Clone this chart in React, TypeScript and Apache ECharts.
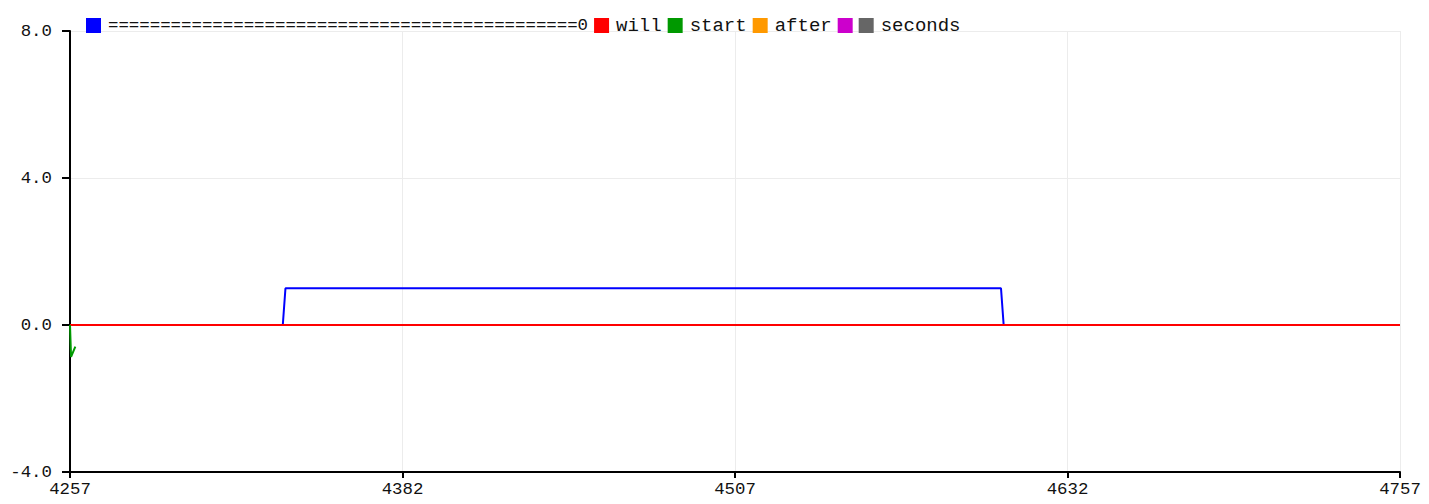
import React, { useEffect, useRef } from "react";
import * as echarts from "echarts";

const FIRST_SAMPLE = 4257;
const LAST_SAMPLE = 4757;
const X_STEP = 125;
const Y_MIN = -4;
const Y_MAX = 8;
const Y_STEP = 4;

const seriesNames = [
  "=============================================0",
  "will",
  "start",
  "after",
  "series5",
  "seconds",
];
const hiddenLabel = "series5";
const seriesColors = ["#0000ff", "#ff0000", "#009900", "#ff9900", "#cc00cc", "#666666"];

// [sample, value] break points
const blueData: [number, number][] = [
  [4257, 0],
  [4337, 0],
  [4338, 1],
  [4607, 1],
  [4608, 0],
  [4757, 0],
];
const redData: [number, number][] = [
  [4257, 0],
  [4757, 0],
];
const greenData: [number, number][] = [
  [4257, 0],
  [4257.4, -0.87],
  [4259, -0.59],
];
const orangeData: [number, number][] = [];
const magentaData: [number, number][] = [];
const grayData: [number, number][] = [];

const allData = [blueData, redData, greenData, orangeData, magentaData, grayData];

const FONT = "'Liberation Mono', 'Courier New', monospace";

export default function App() {
  const ref = useRef<HTMLDivElement>(null);
  useEffect(() => {
    if (!ref.current) return;
    const chart = echarts.init(ref.current, undefined, { renderer: "svg" });
    chart.setOption({
      animation: false,
      backgroundColor: "#ffffff",
      grid: { left: 70, right: 29, top: 31, bottom: 32, containLabel: false },
      legend: {
        left: 86,
        top: 16,
        padding: 0,
        itemWidth: 15,
        itemHeight: 15,
        itemGap: 6,
        icon: "rect",
        data: seriesNames,
        formatter: (name: string) => {
          if (name === hiddenLabel) return "";
          return name === seriesNames[0] ? `{eq|${name}}` : `{w|${name}}`;
        },
        textStyle: {
          fontFamily: FONT,
          fontSize: 17.4,
          color: "#111111",
          padding: [0, 0, 0, 2],
          rich: {
            eq: { fontFamily: FONT, fontSize: 17.4, color: "#111111" },
            w: { fontFamily: FONT, fontSize: 19, color: "#111111" },
          },
        },
      },
      xAxis: {
        type: "value",
        min: 0,
        max: LAST_SAMPLE - FIRST_SAMPLE,
        interval: X_STEP,
        axisLine: { show: true, onZero: false, lineStyle: { color: "#000", width: 2 } },
        axisTick: { show: true, length: 6, lineStyle: { color: "#000", width: 2 } },
        axisLabel: {
          margin: 9,
          fontFamily: FONT,
          fontSize: 17.4,
          color: "#111111",
          formatter: (v: number) => String(v + FIRST_SAMPLE),
        },
        splitLine: { show: true, lineStyle: { color: "#ececec", width: 1 } },
      },
      yAxis: {
        type: "value",
        min: Y_MIN,
        max: Y_MAX,
        interval: Y_STEP,
        axisLine: { show: true, onZero: false, lineStyle: { color: "#000", width: 2 } },
        axisTick: { show: true, length: 8, lineStyle: { color: "#000", width: 2 } },
        axisLabel: {
          margin: 18,
          fontFamily: FONT,
          fontSize: 17.4,
          color: "#111111",
          formatter: (v: number) => v.toFixed(1),
        },
        splitLine: { show: true, lineStyle: { color: "#ececec", width: 1 } },
      },
      series: seriesNames.map((name, i) => ({
        name,
        type: "line",
        showSymbol: false,
        symbol: "none",
        clip: false,
        color: seriesColors[i],
        lineStyle: { color: seriesColors[i], width: 2 },
        data: allData[i].map(([x, y]) => [x - FIRST_SAMPLE, y]),
        z: 2 + i,
      })),
    });
    return () => chart.dispose();
  }, []);
  return (
    <div
      ref={ref}
      style={{ position: "absolute", left: 0, top: 0, width: 1429, height: 504 }}
    />
  );
}
